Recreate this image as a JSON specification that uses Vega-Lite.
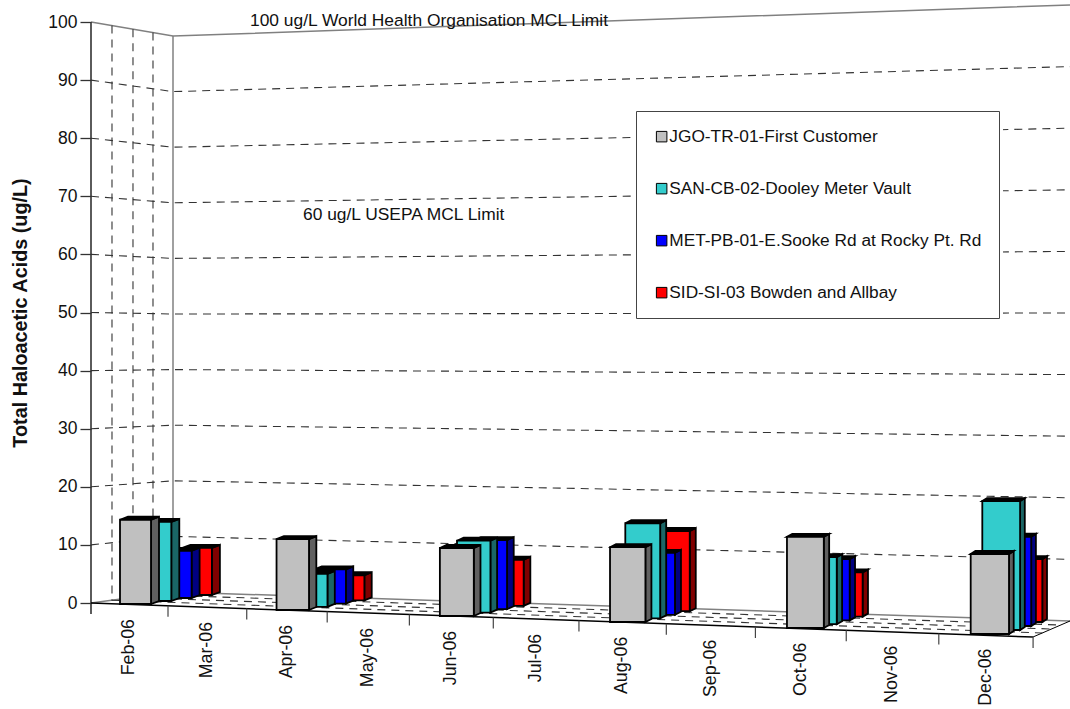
{"$schema":"https://vega.github.io/schema/vega-lite/v6.json","width":1070,"height":709,"padding":0,"autosize":{"type":"none"},"background":"white","config":{"view":{"stroke":null},"font":"Liberation Sans","text":{"font":"Liberation Sans"}},
"datasets":{"levels":[{"level":0},{"level":10},{"level":20},{"level":30},{"level":40},{"level":50},{"level":60},{"level":70},{"level":80},{"level":90},{"level":100}],
"bars":[
{"month":"Feb-06","series":"SID-SI-03 Bowden and Allbay","value":8.4},{"month":"Apr-06","series":"SID-SI-03 Bowden and Allbay","value":4.4},{"month":"Jun-06","series":"SID-SI-03 Bowden and Allbay","value":7.9},{"month":"Aug-06","series":"SID-SI-03 Bowden and Allbay","value":13.5},{"month":"Oct-06","series":"SID-SI-03 Bowden and Allbay","value":7.3},{"month":"Dec-06","series":"SID-SI-03 Bowden and Allbay","value":10.2},
{"month":"Feb-06","series":"MET-PB-01-E.Sooke Rd at Rocky Pt. Rd","value":8.3},{"month":"Apr-06","series":"MET-PB-01-E.Sooke Rd at Rocky Pt. Rd","value":5.9},{"month":"Jun-06","series":"MET-PB-01-E.Sooke Rd at Rocky Pt. Rd","value":11.7},{"month":"Aug-06","series":"MET-PB-01-E.Sooke Rd at Rocky Pt. Rd","value":10.3},{"month":"Oct-06","series":"MET-PB-01-E.Sooke Rd at Rocky Pt. Rd","value":10},{"month":"Dec-06","series":"MET-PB-01-E.Sooke Rd at Rocky Pt. Rd","value":14.3},
{"month":"Feb-06","series":"SAN-CB-02-Dooley Meter Vault","value":13.7},{"month":"Apr-06","series":"SAN-CB-02-Dooley Meter Vault","value":5.6},{"month":"Jun-06","series":"SAN-CB-02-Dooley Meter Vault","value":12},{"month":"Aug-06","series":"SAN-CB-02-Dooley Meter Vault","value":15.6},{"month":"Oct-06","series":"SAN-CB-02-Dooley Meter Vault","value":10.8},{"month":"Dec-06","series":"SAN-CB-02-Dooley Meter Vault","value":20.4},
{"month":"Feb-06","series":"JGO-TR-01-First Customer","value":14.4},{"month":"Apr-06","series":"JGO-TR-01-First Customer","value":11.9},{"month":"Jun-06","series":"JGO-TR-01-First Customer","value":11.2},{"month":"Aug-06","series":"JGO-TR-01-First Customer","value":12.1},{"month":"Oct-06","series":"JGO-TR-01-First Customer","value":14.5},{"month":"Dec-06","series":"JGO-TR-01-First Customer","value":12.5}],
"months":[{"month":"Feb-06"},{"month":"Mar-06"},{"month":"Apr-06"},{"month":"May-06"},{"month":"Jun-06"},{"month":"Jul-06"},{"month":"Aug-06"},{"month":"Sep-06"},{"month":"Oct-06"},{"month":"Nov-06"},{"month":"Dec-06"}],
"ticks":[{"tick":0},{"tick":1},{"tick":2},{"tick":3},{"tick":4},{"tick":5},{"tick":6},{"tick":7},{"tick":8},{"tick":9},{"tick":10},{"tick":11}],
"depths":[{"depth":0.25},{"depth":0.5},{"depth":0.75}],
"posts":[{"post":0.256},{"post":0.512},{"post":0.756}]},
"layer":[
{"data":{"name":"levels"},"transform":[{"calculate":"[0,1,2]","as":"p"},{"flatten":["p"]},{"calculate":"datum.p==0?91:datum.p==1?173:1070","as":"px"},{"calculate":"datum.p==0?603-5.81*datum.level:datum.p==1?592-5.56*datum.level:621-6.16*datum.level","as":"py"},{"calculate":"(603-datum.py)/5.81","as":"yv"},{"filter":"datum.level>0&&datum.level<100"}],
"mark":{"type":"line","color":"#333333","strokeWidth":1.1,"strokeDash":[8,6]},
"encoding":{"x":{"field":"px","type":"quantitative","scale":{"domain":[0,1070],"nice":false,"zero":false},"axis":null},
"y":{"field":"yv","type":"quantitative","scale":{"domain":[-18.244,103.787],"nice":false,"zero":false},"title":"Total Haloacetic Acids (ug/L)","axis":{"values":[0,10,20,30,40,50,60,70,80,90,100],"offset":-91,"domain":false,"grid":false,"tickSize":11,"tickColor":"#333333","tickWidth":1.3,"labelFontSize":17.5,"labelColor":"#111111","labelPadding":3,"labelFont":"Liberation Sans","titleFont":"Liberation Sans","titleFontSize":19.8,"titleFontWeight":"bold","titleColor":"#111111","titleX":-71,"titleY":312.5,"titleAngle":270,"titleAlign":"center","titleBaseline":"middle"}},"detail":{"field":"level","type":"nominal"}}},
{"data":{"name":"levels"},"transform":[{"filter":"datum.level==0||datum.level==100"},{"calculate":"[0,1,2]","as":"p"},{"flatten":["p"]},{"calculate":"datum.p==0?91:datum.p==1?173:1070","as":"px"},{"calculate":"datum.p==0?603-5.81*datum.level:datum.p==1?592-5.56*datum.level:621-6.16*datum.level","as":"py"},{"calculate":"(603-datum.py)/5.81","as":"yv"}],
"mark":{"type":"line","color":"#808080","strokeWidth":1.5},
"encoding":{"x":{"field":"px","type":"quantitative"},"y":{"field":"yv","type":"quantitative"},"detail":{"field":"level","type":"nominal"}}},
{"data":{"name":"posts"},"transform":[{"calculate":"91+82*datum.post","as":"px"},{"calculate":"(603-(22+14*datum.post))/5.81","as":"y1"},{"calculate":"(603-(603-11*datum.post))/5.81","as":"y0"}],
"mark":{"type":"rule","color":"#333333","strokeWidth":1.1,"strokeDash":[8,6]},
"encoding":{"x":{"field":"px","type":"quantitative"},"y":{"field":"y1","type":"quantitative"},"y2":{"field":"y0"}}},
{"data":{"name":"depths"},"transform":[{"calculate":"[0,1]","as":"p"},{"flatten":["p"]},{"calculate":"datum.p==0?91+82*datum.depth:1033+37*datum.depth","as":"px"},{"calculate":"datum.p==0?603-11*datum.depth:637-16*datum.depth","as":"py"},{"calculate":"(603-datum.py)/5.81","as":"yv"}],
"mark":{"type":"line","color":"#333333","strokeWidth":1.1,"strokeDash":[8,6]},
"encoding":{"x":{"field":"px","type":"quantitative"},"y":{"field":"yv","type":"quantitative"},"detail":{"field":"depth","type":"nominal"}}},
{"data":{"values":[{"edge":"back"}]},"mark":{"type":"rule","color":"#808080","strokeWidth":1.5},"encoding":{"x":{"datum":173},"y":{"datum":97.59},"y2":{"datum":1.89}}},
{"data":{"values":[{"edge":"axis"}]},"mark":{"type":"rule","color":"#333333","strokeWidth":1.6},"encoding":{"x":{"datum":91},"y":{"datum":100},"y2":{"datum":-1.89}}},
{"data":{"values":[{"edge":"front"}]},"mark":{"type":"rule","color":"#000000","strokeWidth":1.5},"encoding":{"x":{"datum":91},"y":{"datum":0},"x2":{"datum":1033},"y2":{"datum":-5.85}}},
{"data":{"values":[{"edge":"right"}]},"mark":{"type":"rule","color":"#000000","strokeWidth":1},"encoding":{"x":{"datum":1033},"y":{"datum":-5.85},"x2":{"datum":1070},"y2":{"datum":-3.1}}},
{"data":{"values":[{"edge":"legend gap"}]},"mark":{"type":"rule","color":"#FFFFFF","strokeWidth":6},"encoding":{"x":{"datum":1000},"y":{"datum":84.7},"y2":{"datum":49.05}}},
{"data":{"name":"ticks"},"transform":[{"calculate":"91+76.14*datum.tick+0.864*datum.tick*datum.tick","as":"px"},{"calculate":"603+(datum.px-91)*34/942","as":"py"},{"calculate":"(603-datum.py)/5.81","as":"y1"},{"calculate":"(603-datum.py-11)/5.81","as":"y0"},{"filter":"datum.tick>0"}],
"mark":{"type":"rule","color":"#444444","strokeWidth":1.2},
"encoding":{"x":{"field":"px","type":"quantitative"},"y":{"field":"y1","type":"quantitative"},"y2":{"field":"y0"}}},
{"data":{"name":"bars"},"transform":[
{"calculate":"indexof(['Feb-06','Mar-06','Apr-06','May-06','Jun-06','Jul-06','Aug-06','Sep-06','Oct-06','Nov-06','Dec-06'],datum.month)","as":"m"},
{"calculate":"indexof(['JGO-TR-01-First Customer','SAN-CB-02-Dooley Meter Vault','MET-PB-01-E.Sooke Rd at Rocky Pt. Rd','SID-SI-03 Bowden and Allbay'],datum.series)","as":"k"},
{"calculate":"151+77.3*datum.m+0.85*datum.m*datum.m+datum.k*(20.3-0.92*datum.m)","as":"xr"},
{"calculate":"datum.xr-(31+0.73*datum.m-0.5*datum.k)","as":"xl"},
{"calculate":"8-0.33*datum.m","as":"s"},
{"calculate":"604+3*datum.m-(3+0.1*datum.m)*datum.k","as":"b"},
{"calculate":"datum.b-datum.value*(5.85+0.055*datum.m-0.08*datum.k)","as":"t"},
{"calculate":"[0,1,2,3,4,5,6,7]","as":"p"},{"flatten":["p"]},
{"calculate":"datum.p==0?datum.xr:datum.p==1?datum.xr+datum.s:datum.p==2?datum.xl:datum.p==3?datum.xl+datum.s:datum.p==4?datum.xr:datum.p==5?datum.xr+datum.s:datum.p==6?datum.xl:datum.xr","as":"px"},
{"calculate":"datum.p==0?datum.t:datum.p==1?datum.t-3:datum.p==2?datum.t:datum.p<6?datum.t-3:datum.t","as":"pu"},
{"calculate":"datum.p==0?datum.b:datum.p==1?datum.b-3:datum.p<5?datum.t:datum.p==5?datum.t-3:datum.b","as":"pl"},
{"calculate":"(603-datum.pu)/5.81","as":"yu"},{"calculate":"(603-datum.pl)/5.81","as":"yl"},
{"calculate":"datum.p<2?datum.series+' side':datum.p<6?'top':datum.series","as":"face"},
{"calculate":"datum.month+' '+datum.series+' '+(datum.p<2?'a':datum.p<6?'b':'c')","as":"faceId"}],
"mark":{"type":"area","orient":"vertical","stroke":"#000000","strokeWidth":1.8,"strokeJoin":"miter"},
"encoding":{"x":{"field":"px","type":"quantitative"},"y":{"field":"yu","type":"quantitative"},"y2":{"field":"yl"},"detail":{"field":"faceId","type":"nominal"},
"color":{"field":"face","type":"nominal","scale":{"domain":["JGO-TR-01-First Customer","SAN-CB-02-Dooley Meter Vault","MET-PB-01-E.Sooke Rd at Rocky Pt. Rd","SID-SI-03 Bowden and Allbay","JGO-TR-01-First Customer side","SAN-CB-02-Dooley Meter Vault side","MET-PB-01-E.Sooke Rd at Rocky Pt. Rd side","SID-SI-03 Bowden and Allbay side","top"],"range":["#C0C0C0","#33CCCC","#0000FF","#FF0000","#606060","#1A6666","#000080","#800000","#000000"]},
"legend":{"values":["JGO-TR-01-First Customer","SAN-CB-02-Dooley Meter Vault","MET-PB-01-E.Sooke Rd at Rocky Pt. Rd","SID-SI-03 Bowden and Allbay"],"title":null,"orient":"none","legendX":636,"legendY":111,"padding":17,"fillColor":"white","strokeColor":"#444444","symbolType":"square","symbolSize":110,"symbolStrokeColor":"#000000","symbolStrokeWidth":1,"labelFontSize":17.3,"labelFont":"Liberation Sans","labelColor":"#111111","labelOffset":-1,"labelLimit":400,"rowPadding":34,"symbolOpacity":1}}}},
{"data":{"name":"months"},"transform":[{"calculate":"indexof(['Feb-06','Mar-06','Apr-06','May-06','Jun-06','Jul-06','Aug-06','Sep-06','Oct-06','Nov-06','Dec-06'],datum.month)","as":"j"},{"calculate":"91+76.14*(datum.j+0.5)+0.864*(datum.j+0.5)*(datum.j+0.5)","as":"px"},{"calculate":"(603-(619+2.95*datum.j))/5.81","as":"yv"}],
"mark":{"type":"text","angle":270,"align":"right","baseline":"middle","fontSize":17.8,"color":"#111111"},
"encoding":{"x":{"field":"px","type":"quantitative"},"y":{"field":"yv","type":"quantitative"},"text":{"field":"month"}}},
{"data":{"values":[{"note":"100 ug/L World Health Organisation MCL Limit"}]},"mark":{"type":"text","fontSize":17.4,"color":"#111111","align":"left","baseline":"middle"},"encoding":{"x":{"datum":250},"y":{"datum":100.2},"text":{"field":"note"}}},
{"data":{"values":[{"note":"60 ug/L USEPA MCL Limit"}]},"mark":{"type":"text","fontSize":17.4,"color":"#111111","align":"left","baseline":"middle"},"encoding":{"x":{"datum":303},"y":{"datum":66.8},"text":{"field":"note"}}}
]}
